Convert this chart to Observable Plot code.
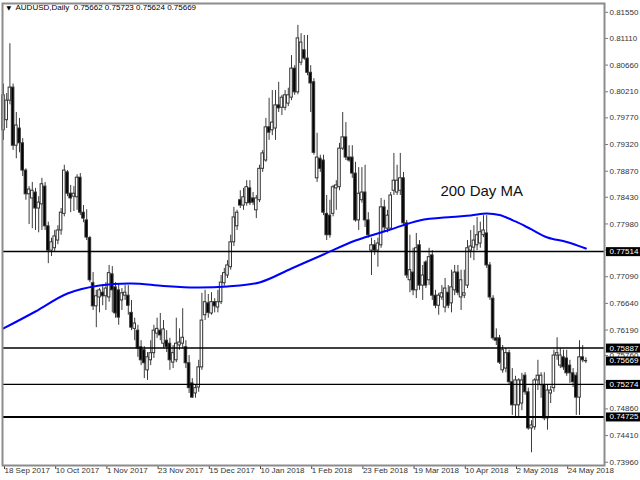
<!DOCTYPE html>
<html><head><meta charset="utf-8">
<script src="https://cdn.jsdelivr.net/npm/d3@7"></script>
<script src="https://cdn.jsdelivr.net/npm/@observablehq/plot@0.6"></script>
<style>
html,body{margin:0;padding:0;background:#fff;}
#chart{width:640px;height:480px;}
</style></head><body><div id="chart"></div><script>
const symbol = "AUDUSD";
const period = "Daily";
const open = [0.7956,0.7973,0.8006,0.8028,0.7930,0.7959,0.7934,0.7888,0.7848,0.7841,0.7851,0.7824,0.7831,0.7861,0.7794,0.7753,0.7757,0.7770,0.7787,0.7815,0.7885,0.7849,0.7844,0.7843,0.7876,0.7817,0.7804,0.7774,0.7698,0.7659,0.7674,0.7682,0.7676,0.7674,0.7713,0.7691,0.7686,0.7669,0.7677,0.7677,0.7648,0.7621,0.7618,0.7590,0.7585,0.7551,0.7568,0.7580,0.7613,0.7618,0.7596,0.7601,0.7596,0.7564,0.7568,0.7593,0.7596,0.7590,0.7563,0.7529,0.7512,0.7522,0.7556,0.7644,0.7664,0.7647,0.7666,0.7657,0.7666,0.7698,0.7711,0.7725,0.7767,0.7794,0.7838,0.7829,0.7833,0.7858,0.7841,0.7821,0.7838,0.7891,0.7905,0.7961,0.7956,0.7959,0.7998,0.7994,0.7994,0.8001,0.8011,0.8060,0.8020,0.8070,0.8091,0.8077,0.8053,0.8037,0.7875,0.7908,0.7905,0.7815,0.7812,0.7815,0.7858,0.7860,0.7925,0.7944,0.7910,0.7910,0.7883,0.7804,0.7838,0.7851,0.7804,0.7753,0.7762,0.7753,0.7762,0.7826,0.7790,0.7790,0.7854,0.7851,0.7854,0.7875,0.7799,0.7703,0.7716,0.7686,0.7762,0.7694,0.7733,0.7703,0.7745,0.7677,0.7660,0.7674,0.7657,0.7682,0.7664,0.7686,0.7716,0.7674,0.7677,0.7694,0.7753,0.7758,0.7762,0.7765,0.7779,0.7782,0.7728,0.7672,0.7605,0.7605,0.7551,0.7554,0.7580,0.7531,0.7492,0.7492,0.7495,0.7542,0.7514,0.7453,0.7455,0.7534,0.7526,0.7526,0.7470,0.7512,0.7521,0.7576,0.7559,0.7573,0.7571,0.7559,0.7546,0.7542,0.7505,0.7573,0.75662];
const high = [0.8034,0.8018,0.8102,0.8034,0.7986,0.7976,0.7942,0.7891,0.7861,0.7868,0.7858,0.7844,0.7875,0.7868,0.7801,0.7774,0.7787,0.7795,0.7824,0.7897,0.7888,0.7863,0.7861,0.7881,0.7883,0.7829,0.7822,0.7777,0.7716,0.7686,0.7689,0.7696,0.7699,0.7728,0.7726,0.7699,0.7696,0.7689,0.7694,0.7694,0.7669,0.7639,0.7627,0.7601,0.7591,0.7581,0.7601,0.7627,0.7639,0.7647,0.7635,0.7618,0.7605,0.7593,0.7639,0.7621,0.7655,0.7601,0.7576,0.7537,0.7526,0.7568,0.7681,0.7686,0.7679,0.7682,0.7672,0.7686,0.7711,0.7723,0.7736,0.7779,0.7826,0.7821,0.7854,0.7858,0.7871,0.7871,0.7851,0.7846,0.7897,0.7922,0.7976,0.8010,0.8023,0.8023,0.8037,0.8015,0.8023,0.8027,0.8082,0.8065,0.8133,0.8119,0.8116,0.8116,0.8065,0.8043,0.7951,0.7914,0.7914,0.7846,0.7838,0.7863,0.7871,0.7934,0.7986,0.7969,0.7930,0.7930,0.7902,0.7893,0.7893,0.7897,0.7817,0.7774,0.7770,0.7774,0.7841,0.7838,0.7821,0.7851,0.7917,0.7897,0.7917,0.7885,0.7804,0.7779,0.7757,0.7782,0.7770,0.7728,0.7736,0.7757,0.7753,0.7686,0.7681,0.7694,0.7706,0.7694,0.7720,0.7728,0.7728,0.7720,0.7720,0.7770,0.7787,0.7795,0.7809,0.7801,0.7812,0.7812,0.7733,0.7677,0.7621,0.7610,0.7593,0.7588,0.7585,0.7554,0.7541,0.7537,0.7546,0.7547,0.7521,0.7466,0.7537,0.7568,0.7547,0.7547,0.7526,0.7524,0.7585,0.7606,0.7588,0.7585,0.7585,0.7568,0.7554,0.7547,0.7601,0.7593,0.75723];
const low = [0.7939,0.7959,0.7999,0.7922,0.7908,0.7918,0.7878,0.7838,0.7797,0.7790,0.7787,0.7783,0.7787,0.7787,0.7731,0.7743,0.7750,0.7763,0.7779,0.7810,0.7844,0.7817,0.7819,0.7821,0.7812,0.7800,0.7770,0.7699,0.7652,0.7623,0.7648,0.7660,0.7652,0.7666,0.7648,0.7639,0.7627,0.7652,0.7669,0.7644,0.7618,0.7601,0.7573,0.7559,0.7537,0.7534,0.7559,0.7571,0.7605,0.7601,0.7588,0.7581,0.7551,0.7554,0.7564,0.7585,0.7588,0.7554,0.7512,0.7504,0.7504,0.7514,0.7551,0.7635,0.7639,0.7644,0.7648,0.7648,0.7662,0.7693,0.7706,0.7720,0.7760,0.7787,0.7824,0.7821,0.7828,0.7829,0.7829,0.7807,0.7834,0.7885,0.7902,0.7939,0.7947,0.7939,0.7986,0.7981,0.7989,0.7996,0.8006,0.8015,0.8016,0.8065,0.8074,0.8048,0.7986,0.7914,0.7868,0.7885,0.7812,0.7770,0.7774,0.7810,0.7821,0.7854,0.7922,0.7905,0.7902,0.7875,0.7801,0.7787,0.7833,0.7792,0.7774,0.7711,0.7745,0.7725,0.7757,0.7783,0.7783,0.7787,0.7846,0.7846,0.7846,0.7795,0.7706,0.7682,0.7677,0.7672,0.7686,0.7669,0.7689,0.7694,0.7669,0.7655,0.7644,0.7669,0.7648,0.7655,0.7648,0.7677,0.7677,0.7652,0.7672,0.7689,0.7740,0.7736,0.7753,0.7757,0.7775,0.7723,0.7669,0.7601,0.7593,0.7561,0.7546,0.7547,0.7526,0.7475,0.7473,0.7473,0.7483,0.7509,0.7450,0.7412,0.7450,0.7517,0.7504,0.7466,0.7450,0.7495,0.7514,0.7568,0.7554,0.7551,0.7541,0.7529,0.7522,0.7475,0.7475,0.7564,0.75624];
const close = [0.8015,0.8006,0.8028,0.7930,0.7964,0.7934,0.7888,0.7848,0.7856,0.7854,0.7824,0.7834,0.7865,0.7794,0.7753,0.7767,0.7777,0.7787,0.7817,0.7888,0.7849,0.7841,0.7849,0.7876,0.7817,0.7807,0.7775,0.7703,0.7659,0.7676,0.7686,0.7676,0.7689,0.7715,0.7686,0.7647,0.7640,0.7681,0.7682,0.7660,0.7623,0.7630,0.7588,0.7568,0.7563,0.7573,0.7580,0.7618,0.7621,0.7610,0.7620,0.7590,0.7568,0.7580,0.7596,0.7598,0.7606,0.7563,0.7521,0.7505,0.7521,0.7556,0.7635,0.7666,0.7648,0.7666,0.7659,0.7666,0.7699,0.7715,0.7728,0.7767,0.7809,0.7817,0.7829,0.7843,0.7860,0.7833,0.7834,0.7841,0.7891,0.7917,0.7961,0.7952,0.7969,0.7998,0.7993,0.8011,0.8015,0.8015,0.8060,0.8020,0.8111,0.8104,0.8077,0.8053,0.8035,0.7918,0.7910,0.7891,0.7817,0.7779,0.7779,0.7860,0.7863,0.7925,0.7944,0.7910,0.7905,0.7883,0.7804,0.7849,0.7851,0.7804,0.7779,0.7762,0.7753,0.7765,0.7826,0.7792,0.7812,0.7846,0.7871,0.7871,0.7875,0.7799,0.7711,0.7720,0.7686,0.7757,0.7694,0.7711,0.7694,0.7742,0.7677,0.7660,0.7677,0.7681,0.7689,0.7660,0.7691,0.7716,0.7682,0.7703,0.7681,0.7757,0.7760,0.7770,0.7779,0.7784,0.7787,0.7728,0.7674,0.7605,0.7601,0.7564,0.7585,0.7580,0.7531,0.7492,0.7534,0.7534,0.7534,0.7514,0.7453,0.7458,0.7534,0.7542,0.7542,0.7470,0.7517,0.7517,0.7576,0.7580,0.7576,0.7556,0.7546,0.7546,0.7531,0.7505,0.7573,0.7568,0.75669];
// 200-day moving average read at selected bars
const maBar = [0,10,20,30,40,50,60,70,80,90,100,110,120,130,140,146,151,155,160,165,170,176,182];
const maValue = [0.76217,0.76503,0.76807,0.76942,0.76976,0.76934,0.76908,0.76925,0.76993,0.77229,0.77465,0.77701,0.77870,0.78039,0.78098,0.78123,0.78157,0.78131,0.78022,0.77887,0.77752,0.77676,0.77566];
const levels = [0.77514, 0.75887, 0.75274, 0.74725];
const priceTicks = [0.8155,0.8111,0.8066,0.8021,0.7977,0.7932,0.7887,0.7843,0.7798,0.7754,0.7709,0.7664,0.7619,0.7576,0.7531,0.7486,0.7441,0.7396];
const dateLabels = ["18 Sep 2017","10 Oct 2017","1 Nov 2017","23 Nov 2017","15 Dec 2017","10 Jan 2018","1 Feb 2018","23 Feb 2018","19 Mar 2018","10 Apr 2018","2 May 2018","24 May 2018"];
const dateLabelBars = [0,16,32,48,64,80,96,112,128,144,160,176];
const maLabel = "200 Day MA";

const bars = open.map((o, i) => ({i, open: o, high: high[i], low: low[i], close: close[i]}));
const ma = maBar.map((b, k) => ({i: b, v: maValue[k]}));
const last = bars[bars.length - 1];
const f5 = d3.format(".5f");
const titleText = `${symbol},${period}\u00a0\u00a0${f5(last.open)} ${f5(last.high)} ${f5(last.low)} ${f5(last.close)}`;
const maPeak = ma.reduce((a, b) => (b.v > a.v ? b : a));
const boxVals = [...levels, last.close];
const boxTexts = new Set(boxVals.map(f5));
// tick labels fully hidden behind a level box in the original are left blank
const hiddenTick = t => levels.some(l => Math.abs(l - t) < 0.0006);
const font = "'Liberation Sans', Arial, sans-serif";

const svg = Plot.plot({
  width: 640, height: 480,
  marginLeft: 2, marginRight: 36, marginTop: 3, marginBottom: 15,
  style: {fontFamily: font, fontSize: "8px", background: "#fff", color: "#000", overflow: "visible"},
  x: {type: "linear", domain: [-0.3125, 187.8125], label: null},
  y: {domain: [0.73905, 0.81699], label: null},
  color: {type: "identity"},
  marks: [
    Plot.axisY(priceTicks, {anchor: "right", label: null, tickSize: 3, tickPadding: 2, tickFormat: t => (hiddenTick(t) ? "" : f5(t)), stroke: "#777", fill: "#333", fontSize: 8, textAnchor: "start"}),
    Plot.axisX(dateLabelBars, {anchor: "bottom", label: null, tickSize: 4, tickPadding: -2, tickFormat: (d) => dateLabels[dateLabelBars.indexOf(d)], textAnchor: "start", dx: 1, stroke: "#444", fill: "#333", fontSize: 8}),
    Plot.ruleX(bars, {x: "i", y1: "low", y2: "high", stroke: "#3c3c3c", strokeWidth: 1}),
    Plot.rect(bars, {x1: d => d.i - 0.4, x2: d => d.i + 0.4, y1: "open", y2: "close",
      fill: d => (d.close >= d.open ? "#ffffff" : "#000000"), stroke: "#333", strokeWidth: 1}),
    Plot.ruleY(levels, {stroke: "#000", strokeWidth: d => (d === levels[levels.length - 1] ? 2 : 1.4)}),
    Plot.line(ma, {x: "i", y: "v", stroke: "#0000ff", strokeWidth: 2, curve: "catmull-rom"}),
    Plot.text([maLabel], {x: () => maPeak.i, y: () => maPeak.v, dx: -5, dy: -22, fontSize: 15, fill: "#111", fontFamily: font}),
    Plot.text([titleText], {frameAnchor: "top-left", dx: 13, dy: 1, textAnchor: "start", lineAnchor: "top", fontSize: 8, fill: "#000"}),
    Plot.text(["\u25BC"], {frameAnchor: "top-left", dx: 4, dy: 2, textAnchor: "start", lineAnchor: "top", fontSize: 6, fill: "#000", fontFamily: "DejaVu Sans"}),
    Plot.frame({stroke: "#8c8c8c", strokeWidth: 2}),
    Plot.text(boxVals, {y: d => d, frameAnchor: "right", dx: 5, textAnchor: "start", text: d => f5(d), fill: "#ffffff", fontSize: 8})
  ]
});
document.getElementById("chart").append(svg);

// black boxes behind the level/current price labels, sized from the rendered text
const xr = svg.scale("x").range[1];
const svgR = svg.getBoundingClientRect();
const boxTextNodes = Array.from(svg.querySelectorAll("text")).filter(t =>
  boxTexts.has(t.textContent) && getComputedStyle(t).fill === "rgb(255, 255, 255)");
if (boxTextNodes.length) {
  const parentG = boxTextNodes[0].closest("g");
  const boxG = d3.create("svg:g").attr("aria-label", "price boxes");
  svg.insertBefore(boxG.node(), parentG);
  boxTextNodes.forEach(t => {
    const r = t.getBoundingClientRect();
    boxG.append("rect")
      .attr("x", xr + 2).attr("y", r.top - svgR.top)
      .attr("width", svgR.width - xr - 2).attr("height", r.height)
      .attr("fill", "#000");
  });
}
</script></body></html>
